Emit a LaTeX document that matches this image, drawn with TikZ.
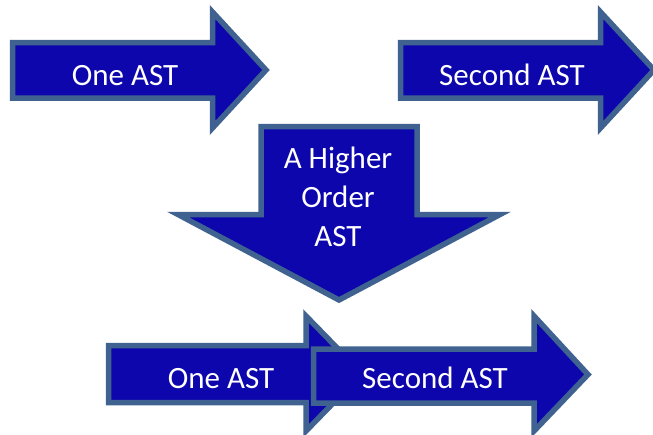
\documentclass[tikz,border=0pt]{standalone}
\usepackage{fontspec}
\setmainfont{Carlito}
\definecolor{arrowfill}{HTML}{0C06AC}
\definecolor{arrowline}{HTML}{3F6290}
\tikzset{
  blockarrow/.style={fill=arrowfill, draw=arrowline, line width=5.5pt, line join=miter, miter limit=10},
  label/.style={text=white, font=\fontsize{31}{39}\selectfont, anchor=base, inner sep=0pt, align=center}
}
% right-pointing block arrow: left, top, bottom, head back, head top, head bottom, tip x, centre y
\newcommand{\rarrow}[8]{%
  \path[blockarrow] (#1,#2) -- (#4,#2) -- (#4,#5) -- (#7,#8) -- (#4,#6) -- (#4,#3) -- (#1,#3) -- cycle;}
\begin{document}
\begin{tikzpicture}[x=1pt, y=-1pt]
  \useasboundingbox (0,0) rectangle (653,434);
  \begin{scope}
    \clip (0,0) rectangle (653,434);
    % top row
    \rarrow{12.5}{42.5}{98}{212.5}{12}{128}{266}{70}
    \node[label] (one) at (125,85) {One AST};
    \rarrow{400.5}{42.5}{98}{600.5}{12}{128}{654}{70}
    \node[label] (two) at (512,85) {Second AST};
    % downward arrow
    \path[blockarrow] (261,126.5) -- (417,126.5) -- (417,214.5) -- (500,214.5)
      -- (339,300) -- (178,214.5) -- (261,214.5) -- cycle;
    \node[label] (higher) at (338,168) {A Higher};
    \node[label] (order) at (338,207) {Order};
    \node[label] (ast) at (338,246) {AST};
    % bottom row
    \rarrow{108.5}{345.5}{402.5}{306}{316}{431}{362}{373.5}
    \node[label] (onebot) at (221,388) {One AST};
    \rarrow{313.5}{349}{403}{534}{316}{431}{588}{374.5}
    \node[label] (twobot) at (435,388) {Second AST};
  \end{scope}
\end{tikzpicture}
\end{document}
